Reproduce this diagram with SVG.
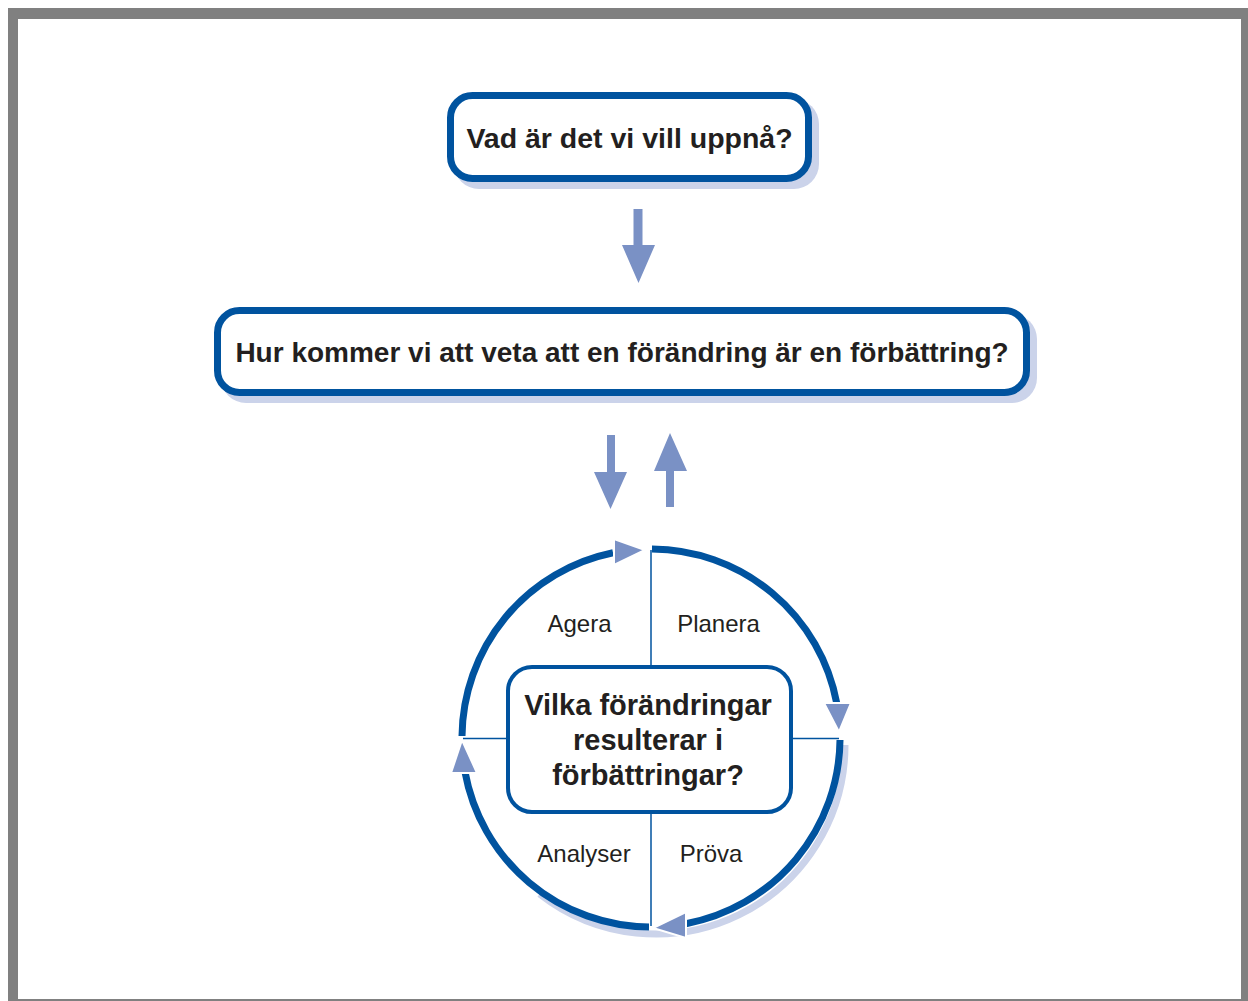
<svg xmlns="http://www.w3.org/2000/svg" width="1248" height="1001" viewBox="0 0 1248 1001">
  <defs>
    <style>
      .box { fill: #ffffff; stroke: #00539f; stroke-width: 7; }
      .shadow { fill: #cbd3ea; }
      .q { font-family: "Liberation Sans", Arial, sans-serif; font-weight: bold; font-size: 28px; fill: #231f20; text-anchor: middle; }
      .lbl { font-family: "Liberation Sans", Arial, sans-serif; font-size: 24px; fill: #231f20; text-anchor: middle; }
      .flow { fill: #7a91c5; }
      .ring { fill: none; stroke: #00539f; stroke-width: 7; }
      .spoke { stroke: #00539f; stroke-width: 1.5; fill: none; }
      .head { fill: #7a91c5; stroke: #ffffff; stroke-width: 2; stroke-linejoin: miter; }
    </style>
  </defs>

  <!-- frame -->
  <rect x="8" y="8" width="1240" height="993" fill="#808080"/>
  <rect x="18" y="19" width="1223" height="980" fill="#ffffff"/>

  <!-- question 1 -->
  <g id="goal">
    <rect class="shadow" x="454" y="99" width="365" height="90" rx="25"/>
    <rect class="box" x="450.5" y="95.5" width="358" height="83" rx="22"/>
    <text class="q" x="629.5" y="148" style="font-size:28.5px">Vad är det vi vill uppnå?</text>
  </g>

  <!-- question 2 -->
  <g id="measure">
    <rect class="shadow" x="221" y="314" width="816" height="89" rx="25"/>
    <rect class="box" x="217.5" y="310.5" width="809" height="82" rx="22"/>
    <text class="q" x="622" y="362">Hur kommer vi att veta att en förändring är en förbättring?</text>
  </g>

  <!-- PDSA cycle -->
  <g id="cycle">
    <!-- drop shadow along the lower right of the ring -->
    <path d="M 845 745 A 189 189 0 0 1 539.6 893.9" fill="none" stroke="#cbd3ea" stroke-width="7"/>
    <!-- ring segments between the arrowheads -->
    <path class="ring" d="M 652 549 A 189 189 0 0 1 836.7 703"/>
    <path class="ring" d="M 840 740 A 189 189 0 0 1 686 923.7"/>
    <path class="ring" d="M 649 927 A 189 189 0 0 1 465 772"/>
    <path class="ring" d="M 462 736 A 189 189 0 0 1 613 552.8"/>
    <!-- spokes -->
    <line class="spoke" x1="651" y1="550" x2="651" y2="667"/>
    <line class="spoke" x1="651" y1="812" x2="651" y2="926"/>
    <line class="spoke" x1="463" y1="738.5" x2="508" y2="738.5"/>
    <line class="spoke" x1="791" y1="738.5" x2="839" y2="738.5"/>
    <!-- arrowheads -->
    <polygon class="head" points="614,539 614,565 645,550"/>
    <polygon class="head" points="824,703 851,703 839,732"/>
    <polygon class="head" points="686,912 686,938 653,928"/>
    <polygon class="head" points="451,773 477,773 462,740"/>
    <!-- quadrant labels -->
    <text class="lbl" x="579.5" y="632">Agera</text>
    <text class="lbl" x="718.5" y="632">Planera</text>
    <text class="lbl" x="584" y="862">Analyser</text>
    <text class="lbl" x="711" y="862">Pröva</text>
  </g>

  <!-- question 3 -->
  <g id="changes">
    <rect x="508" y="667" width="283" height="145" rx="24" fill="#ffffff" stroke="#00539f" stroke-width="4"/>
    <text class="q" x="648" y="715" style="font-size:29px">Vilka förändringar</text>
    <text class="q" x="648" y="750" style="font-size:29px">resulterar i</text>
    <text class="q" x="648" y="785" style="font-size:29px">förbättringar?</text>
  </g>

  <!-- connectors between the questions -->
  <g id="connectors">
    <polygon class="flow" points="633.5,209 642.5,209 642.5,245 655,245 638.5,283 622,245 633.5,245"/>
    <polygon class="flow" points="607,435 615,435 615,472 627,472 610.5,509 594,472 607,472"/>
    <polygon class="flow" points="670,433 687,471 674,471 674,507 666,507 666,471 654,471"/>
  </g>
</svg>
